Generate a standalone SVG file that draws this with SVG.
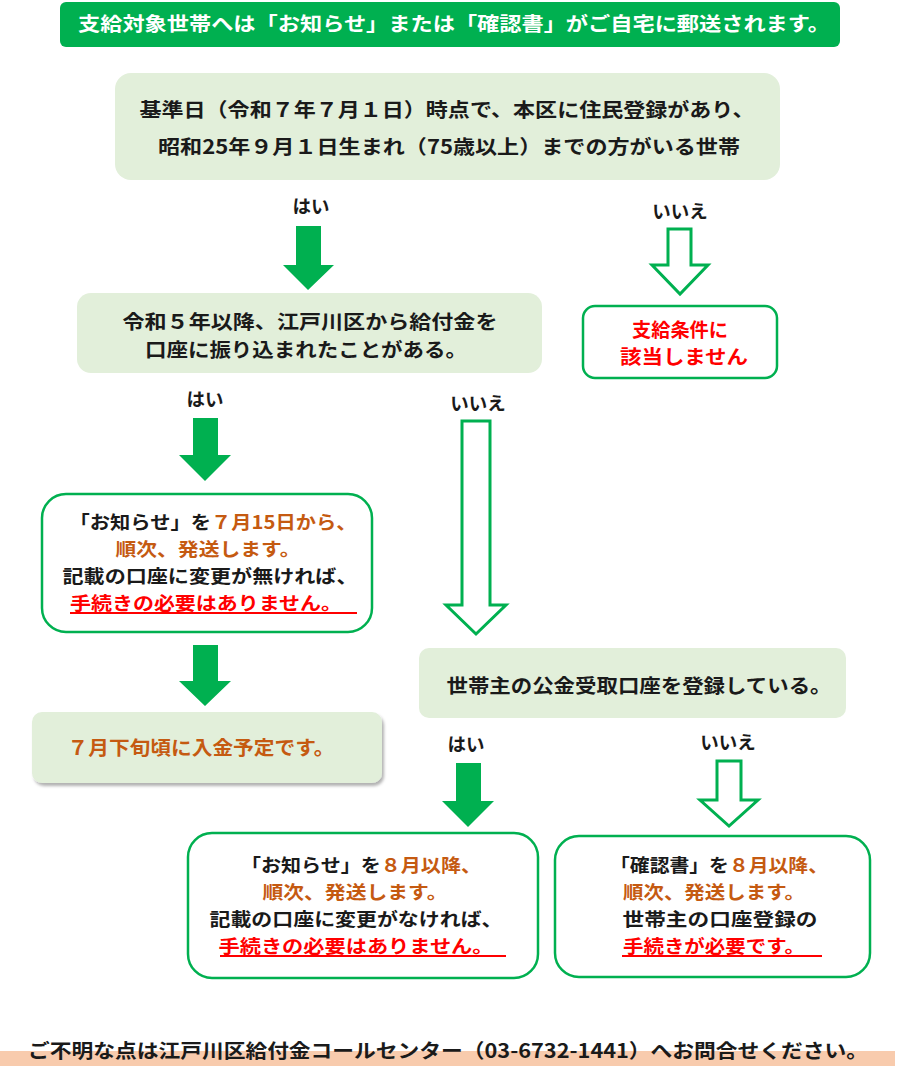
<svg xmlns="http://www.w3.org/2000/svg" width="915" height="1076" viewBox="0 0 915 1076">
<style>
text{font-family:"Noto Sans CJK JP","Noto Sans",sans-serif;font-weight:bold;}
.t{font-size:19.5px;fill:#1a1a1a;text-anchor:middle;}
.m{font-size:18.5px;}
.lb{font-size:18.5px;fill:#1a1a1a;text-anchor:middle;}
.o{fill:#c55a11;}
.r{fill:#ff0000;}
.pale{fill:#e2efda;}
.frame{fill:#ffffff;stroke:#00b050;stroke-width:2.5;}
.solid{fill:#00b050;}
.hollow{fill:#ffffff;stroke:#00b050;stroke-width:3;stroke-linejoin:miter;}
.ul{stroke:#ff0000;stroke-width:2;}
</style>
<defs>
<filter id="sh" x="-5%" y="-10%" width="115%" height="130%">
<feDropShadow dx="2" dy="3" stdDeviation="1.5" flood-color="#000" flood-opacity="0.3"/>
</filter>
</defs>
<rect width="915" height="1076" fill="#ffffff"/>

<g id="banner">
<rect x="60" y="2" width="780" height="45" rx="6" fill="#00b050"/>
<text class="t" x="454" y="31" textLength="752" lengthAdjust="spacingAndGlyphs" style="fill:#fff">支給対象世帯へは「お知らせ」または「確認書」がご自宅に郵送されます。</text>
</g>

<g id="q1">
<rect class="pale" x="115" y="73" width="665" height="107" rx="16"/>
<text class="t" x="447" y="117" textLength="615" lengthAdjust="spacingAndGlyphs">基準日（令和７年７月１日）時点で、本区に住民登録があり、</text>
<text class="t" x="449" y="154" textLength="582" lengthAdjust="spacingAndGlyphs">昭和25年９月１日生まれ（75歳以上）までの方がいる世帯</text>
</g>

<g id="q2">
<rect class="pale" x="77" y="293" width="465" height="80" rx="14"/>
<text class="t" x="310" y="329" textLength="375" lengthAdjust="spacingAndGlyphs">令和５年以降、江戸川区から給付金を</text>
<text class="t" x="306" y="357" textLength="322" lengthAdjust="spacingAndGlyphs">口座に振り込まれたことがある。</text>
</g>

<g id="notEligible">
<rect class="frame" x="583" y="306" width="194" height="72" rx="12"/>
<text class="t r" x="680" y="337" textLength="96" lengthAdjust="spacingAndGlyphs">支給条件に</text>
<text class="t r" x="684" y="364" textLength="128" lengthAdjust="spacingAndGlyphs">該当しません</text>
</g>

<g id="notice715">
<rect class="frame" x="42" y="494" width="330" height="138" rx="24"/>
<text class="t m" x="213" y="529" textLength="287" lengthAdjust="spacingAndGlyphs">「お知らせ」を<tspan class="o">７月15日から、</tspan></text>
<text class="t m o" x="208" y="556" textLength="185" lengthAdjust="spacingAndGlyphs">順次、発送します。</text>
<text class="t m" x="210" y="583" textLength="295" lengthAdjust="spacingAndGlyphs">記載の口座に変更が無ければ、</text>
<text class="t m r" x="206" y="610" textLength="272" lengthAdjust="spacingAndGlyphs">手続きの必要はありません。</text>
<line class="ul" x1="70" y1="613" x2="357" y2="613"/>
</g>

<g id="deposit">
<rect class="pale" x="32" y="712" width="350" height="71" rx="10" filter="url(#sh)"/>
<text class="t o" x="201" y="755" textLength="267" lengthAdjust="spacingAndGlyphs">７月下旬頃に入金予定です。</text>
</g>

<g id="q3">
<rect class="pale" x="419" y="648" width="427" height="70" rx="10"/>
<text class="t" x="639" y="693" textLength="385" lengthAdjust="spacingAndGlyphs">世帯主の公金受取口座を登録している。</text>
</g>

<g id="notice8">
<rect class="frame" x="188" y="833" width="350" height="145" rx="24"/>
<text class="t m" x="361" y="872" textLength="240" lengthAdjust="spacingAndGlyphs">「お知らせ」を<tspan class="o">８月以降、</tspan></text>
<text class="t m o" x="355" y="899" textLength="185" lengthAdjust="spacingAndGlyphs">順次、発送します。</text>
<text class="t m" x="356" y="926" textLength="293" lengthAdjust="spacingAndGlyphs">記載の口座に変更がなければ、</text>
<text class="t m r" x="356" y="953" textLength="275" lengthAdjust="spacingAndGlyphs">手続きの必要はありません。</text>
<line class="ul" x1="220" y1="956" x2="506" y2="956"/>
</g>

<g id="confirm8">
<rect class="frame" x="555" y="836" width="315" height="141" rx="24"/>
<text class="t m" x="719" y="872" textLength="218" lengthAdjust="spacingAndGlyphs">「確認書」を<tspan class="o">８月以降、</tspan></text>
<text class="t m o" x="714" y="899" textLength="182" lengthAdjust="spacingAndGlyphs">順次、発送します。</text>
<text class="t m" x="720" y="926" textLength="195" lengthAdjust="spacingAndGlyphs">世帯主の口座登録の</text>
<text class="t m r" x="714" y="953" textLength="182" lengthAdjust="spacingAndGlyphs">手続きが必要です。</text>
<line class="ul" x1="622" y1="956" x2="822" y2="956"/>
</g>

<g id="footer">
<rect x="0" y="1051" width="895" height="15" fill="#f8cbad"/>
<text class="t" x="448" y="1058" textLength="840" lengthAdjust="spacingAndGlyphs">ご不明な点は江戸川区給付金コールセンター（03-6732-1441）へお問合せください。</text>
</g>

<g id="connectors">
<text class="lb" x="311" y="213">はい</text>
<polygon class="solid" points="296,226 321,226 321,265 334,265 308,290 283,265 296,265"/>
<text class="lb" x="680" y="218">いいえ</text>
<polygon class="hollow" points="668,229 691,229 691,265 708,265 680,294 652,265 668,265"/>
<text class="lb" x="205" y="406">はい</text>
<polygon class="solid" points="193,418 218,418 218,455 231,455 205,481 179,455 193,455"/>
<text class="lb" x="478" y="410">いいえ</text>
<polygon class="hollow" points="462,421 490,421 490,605 506,605 476,634 446,605 462,605"/>
<polygon class="solid" points="193,645 218,645 218,681 231,681 205,706 179,681 193,681"/>
<text class="lb" x="466" y="751">はい</text>
<polygon class="solid" points="456,763 481,763 481,801 494,801 468,827 442,801 456,801"/>
<text class="lb" x="728" y="749">いいえ</text>
<polygon class="hollow" points="717,761 741,761 741,800 758,800 729,826 700,800 717,800"/>
</g>
</svg>
